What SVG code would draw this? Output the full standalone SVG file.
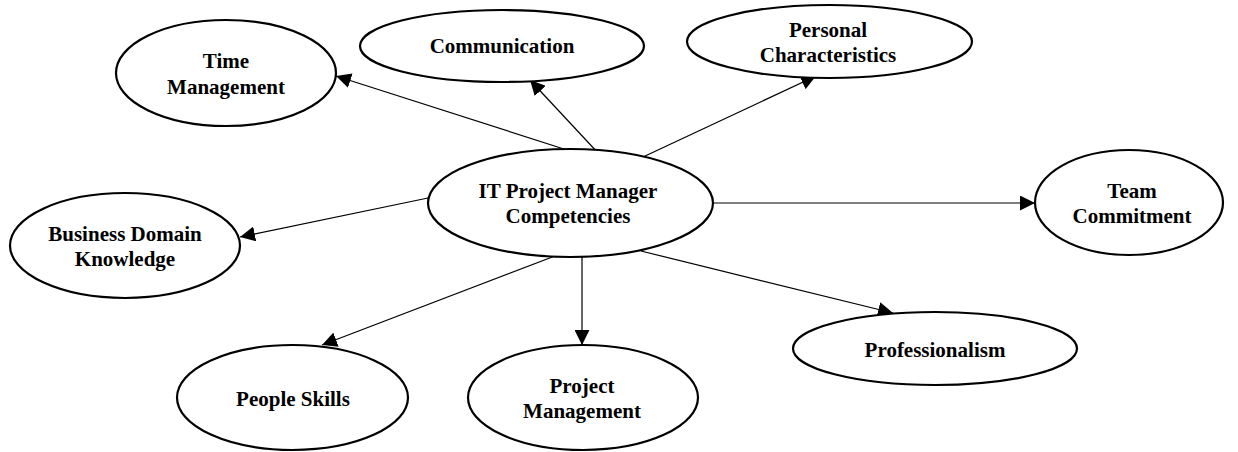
<svg xmlns="http://www.w3.org/2000/svg" width="1238" height="452" viewBox="0 0 1238 452">
  <style>
    .node ellipse { fill: #ffffff; stroke: #000000; stroke-width: 2.2; }
    .node text { font-family: "Liberation Serif", "Times New Roman", serif; font-weight: bold; font-size: 21px; text-anchor: middle; fill: #000000; }
    .edges line { stroke: #000000; stroke-width: 1.2; marker-end: url(#arrow); }
  </style>
  <defs>
    <marker id="arrow" markerUnits="userSpaceOnUse" markerWidth="15" markerHeight="15" refX="15" refY="7.5" orient="auto" viewBox="0 0 15 15">
      <path d="M0,0 L15,7.5 L0,15 z" fill="#000000"/>
    </marker>
  </defs>
  <rect width="1238" height="452" fill="#ffffff"/>

  <!-- connectors from the hub to each competency -->
  <g id="edges" class="edges">
    <line x1="567" y1="150" x2="336" y2="76"/>
    <line x1="599" y1="154" x2="530" y2="80"/>
    <line x1="643" y1="157" x2="816" y2="76"/>
    <line x1="428" y1="198" x2="240" y2="237"/>
    <line x1="713" y1="203" x2="1035" y2="203"/>
    <line x1="555" y1="256" x2="322" y2="345"/>
    <line x1="582" y1="257" x2="582" y2="345"/>
    <line x1="641" y1="251" x2="893" y2="313"/>
  </g>

  <g id="node-hub" class="node">
    <ellipse cx="570.5" cy="203" rx="142.5" ry="54"/>
    <text x="568" y="198">IT Project Manager</text>
    <text x="568" y="223">Competencies</text>
  </g>

  <g id="node-time" class="node">
    <ellipse cx="226" cy="73" rx="110" ry="53"/>
    <text x="226" y="68">Time</text>
    <text x="226" y="94">Management</text>
  </g>

  <g id="node-communication" class="node">
    <ellipse cx="502" cy="46" rx="142" ry="36"/>
    <text x="502" y="53">Communication</text>
  </g>

  <g id="node-personal" class="node">
    <ellipse cx="829.5" cy="41.5" rx="142.5" ry="36.5"/>
    <text x="828" y="37">Personal</text>
    <text x="828" y="62">Characteristics</text>
  </g>

  <g id="node-business" class="node">
    <ellipse cx="125" cy="245.5" rx="115" ry="52.5"/>
    <text x="125" y="241">Business Domain</text>
    <text x="125" y="266">Knowledge</text>
  </g>

  <g id="node-team" class="node">
    <ellipse cx="1129" cy="202.5" rx="94" ry="52.5"/>
    <text x="1132" y="198">Team</text>
    <text x="1132" y="223">Commitment</text>
  </g>

  <g id="node-people" class="node">
    <ellipse cx="292.5" cy="397.5" rx="115.5" ry="52.5"/>
    <text x="293" y="406">People Skills</text>
  </g>

  <g id="node-project" class="node">
    <ellipse cx="583" cy="397.5" rx="115" ry="52.5"/>
    <text x="582" y="393">Project</text>
    <text x="582" y="418">Management</text>
  </g>

  <g id="node-professionalism" class="node">
    <ellipse cx="935" cy="348.5" rx="142" ry="36.5"/>
    <text x="935" y="357">Professionalism</text>
  </g>
</svg>
